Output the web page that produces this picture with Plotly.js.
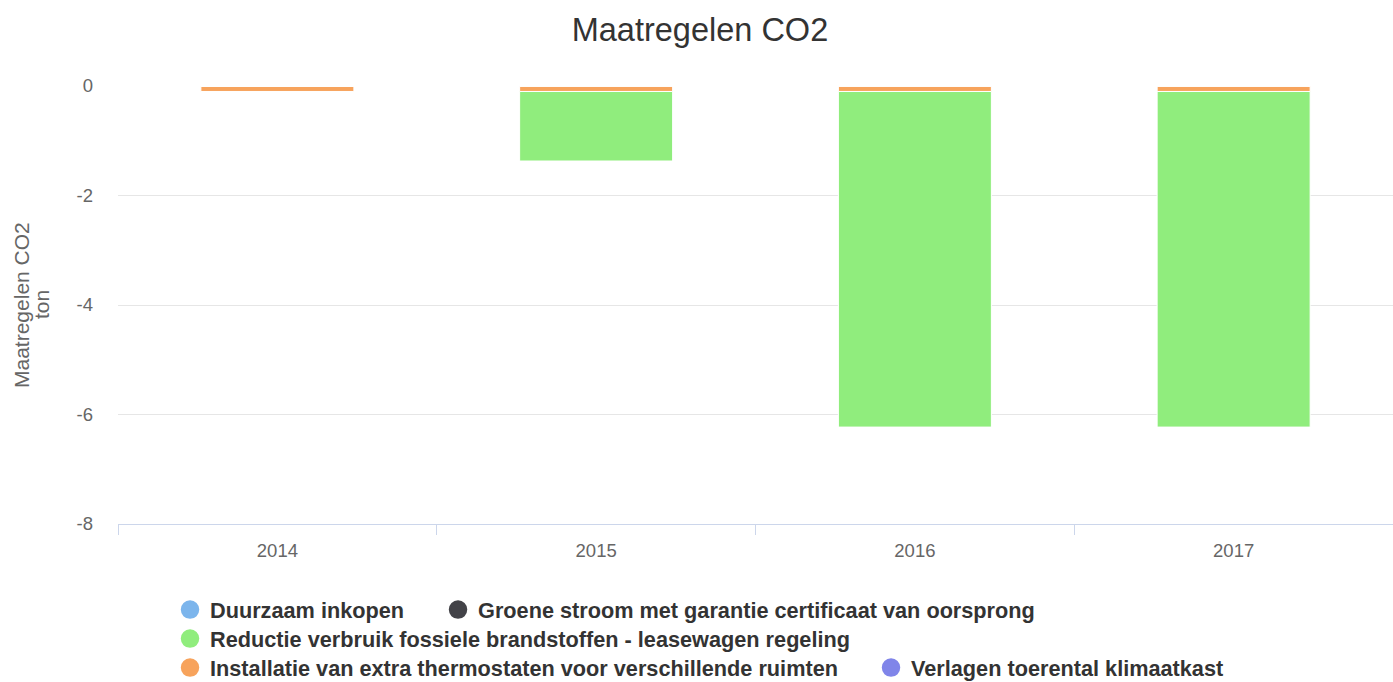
<!DOCTYPE html>
<html>
<head>
<meta charset="utf-8">
<script src="https://cdn.plot.ly/plotly-3.0.1.min.js"></script>
<style>html,body{margin:0;padding:0;background:#fff;}#chart{width:1393px;height:682px;}</style>
</head>
<body>
<div id="chart"></div>
<script>
var years = ["2014", "2015", "2016", "2017"];
var seriesNames = [
  "Duurzaam inkopen",
  "Groene stroom met garantie certificaat van oorsprong",
  "Reductie verbruik fossiele brandstoffen - leasewagen regeling",
  "Installatie van extra thermostaten voor verschillende ruimten",
  "Verlagen toerental klimaatkast"
];
var duurzaamInkopen = [0, 0, 0, 0];
var groeneStroom = [0, 0, 0, 0];
var reductieLeasewagen = [0, -1.27, -6.13, -6.13];
var installatieThermostaten = [-0.1, -0.1, -0.1, -0.1];
var verlagenToerental = [0, 0, 0, 0];
var seriesValues = [duurzaamInkopen, groeneStroom, reductieLeasewagen, installatieThermostaten, verlagenToerental];
var colors = ["#7cb5ec", "#434348", "#90ed7d", "#f7a35c", "#8085e9"];
var yTickValues = [-8, -6, -4, -2, 0];
var yTickLabels = ["-8", "-6", "-4", "-2", "0"];
var yTitleLines = ["Maatregelen CO2", "ton"];

var traces = [];
// Bars: later series stacked closest to zero (Highcharts stacking order)
for (var i = seriesNames.length - 1; i >= 0; i--) {
  traces.push({
    type: "bar", x: years, y: seriesValues[i], name: seriesNames[i],
    marker: {color: colors[i], line: {color: "#ffffff", width: 1}},
    showlegend: false, legendgroup: "g" + i, hoverinfo: "x+y+name"
  });
}
// Legend entries with round symbols
var legendKeys = ["legend", "legend2", "legend3", "legend4", "legend5"];
for (var j = 0; j < seriesNames.length; j++) {
  traces.push({
    type: "scatter", mode: "markers", x: [null], y: [null], name: seriesNames[j],
    marker: {color: colors[j], size: 16, symbol: "circle", line: {color: colors[j], width: 2.5}},
    legendgroup: "g" + j, legend: legendKeys[j], showlegend: true, hoverinfo: "skip"
  });
}

var legendFont = {family: "Liberation Sans, Arial, sans-serif", size: 21.7, color: "#333333", weight: 700};
function leg(x, y) {
  return {orientation: "h", x: x, y: y, xanchor: "left", yanchor: "middle",
          bgcolor: "rgba(0,0,0,0)", font: legendFont, itemclick: false, itemdoubleclick: false};
}

var layout = {
  width: 1393, height: 682,
  margin: {l: 118, r: 0, t: 86, b: 158, autoexpand: false},
  paper_bgcolor: "#ffffff", plot_bgcolor: "#ffffff",
  font: {family: "Liberation Sans, Arial, sans-serif", color: "#666666"},
  title: {text: "Maatregelen CO2", x: 0.5025, xanchor: "center", y: 0.956, yanchor: "middle",
          font: {size: 32.5, color: "#333333", family: "Liberation Sans, Arial, sans-serif"}},
  barmode: "relative",
  bargap: 0.52,
  xaxis: {
    type: "category", tickson: "boundaries", ticks: "outside", ticklen: 10, tickcolor: "#ccd6eb", tickwidth: 1,
    showline: true, linecolor: "#ccd6eb", linewidth: 1, showgrid: false, zeroline: false,
    ticklabelstandoff: 10,
    tickfont: {size: 18.5, color: "#666666"}, fixedrange: true
  },
  yaxis: {
    range: [-8, 0], tickmode: "array", tickvals: yTickValues, ticktext: yTickLabels,
    showgrid: true, gridcolor: "#e6e6e6", gridwidth: 1,
    zeroline: false, showline: false, ticks: "", ticklabelstandoff: 24,
    tickfont: {size: 18.5, color: "#666666"},
    fixedrange: true
  },
  annotations: [
    {text: yTitleLines[0], xref: "paper", yref: "paper", x: 0, y: 0.5, xshift: -97, textangle: -90,
     xanchor: "center", yanchor: "middle", showarrow: false, font: {size: 21, color: "#666666"}},
    {text: yTitleLines[1], xref: "paper", yref: "paper", x: 0, y: 0.5, xshift: -77, textangle: -90,
     xanchor: "center", yanchor: "middle", showarrow: false, font: {size: 21, color: "#666666"}}
  ],
  legend: leg(0.0408, -0.1963),
  legend2: leg(0.2510, -0.1963),
  legend3: leg(0.0408, -0.2626),
  legend4: leg(0.0408, -0.3288),
  legend5: leg(0.5906, -0.3288),
  showlegend: true
};

Plotly.newPlot("chart", traces, layout, {displayModeBar: false});
</script>
</body>
</html>
